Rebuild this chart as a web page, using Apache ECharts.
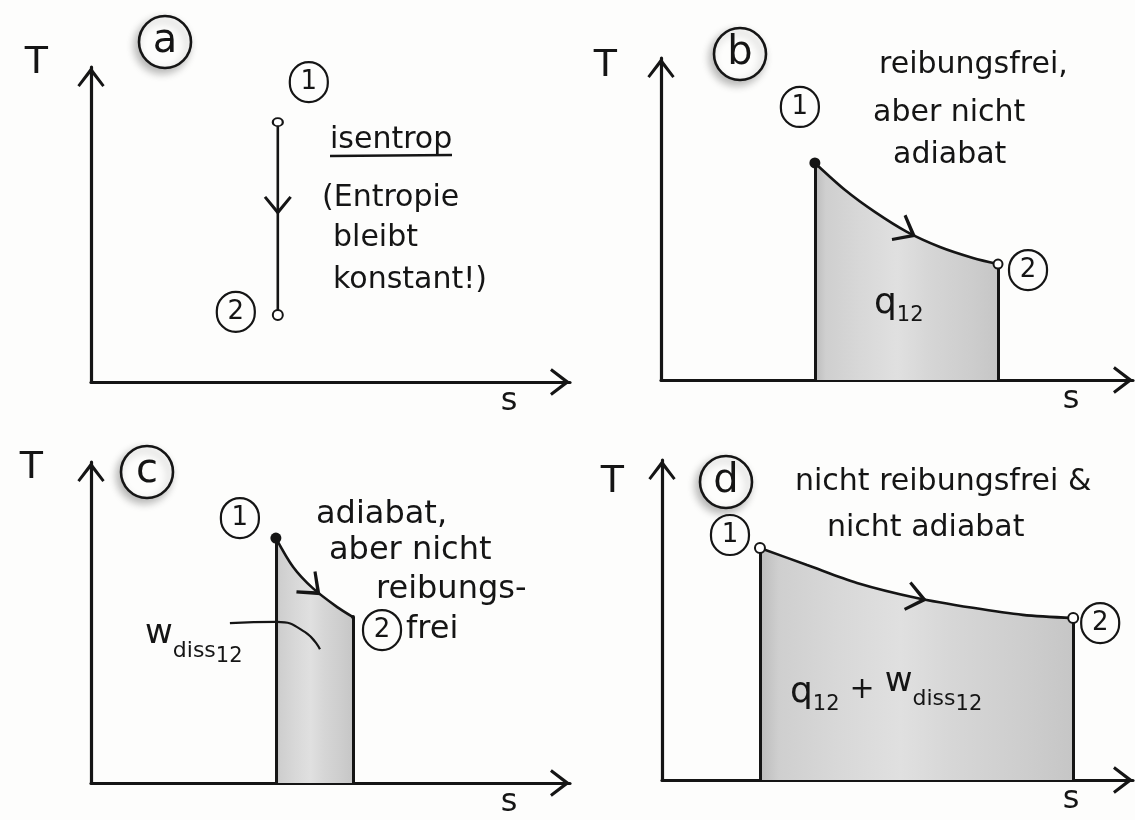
<!DOCTYPE html>
<html>
<head>
<meta charset="utf-8">
<script src="https://cdn.jsdelivr.net/npm/echarts@6/dist/echarts.min.js"></script>
<style>
  html, body { margin: 0; padding: 0; background: #fdfdfc; }
  #chart { width: 1135px; height: 820px; }
</style>
</head>
<body>
<div id="chart"></div>
<script>
// Change of state 1 -> 2 in the T-s diagram (entropy s, temperature T, arbitrary units 0..10)
// (a) isentrop
const isentropS = [3.9, 3.9, 3.9];
const isentropT = [8.25, 5.6, 2.13];
// (b) reibungsfrei, aber nicht adiabat
const reibfreiS = [3.26, 3.90, 4.53, 5.21, 5.91, 6.61, 7.14];
const reibfreiT = [6.74, 5.90, 5.22, 4.60, 4.13, 3.79, 3.60];
// (c) adiabat, aber nicht reibungsfrei
const adiabatS = [3.86, 4.22, 4.63, 5.14, 5.47];
const adiabatT = [7.63, 6.73, 6.07, 5.48, 5.17];
// (d) nicht reibungsfrei & nicht adiabat
const allgS = [2.08, 3.08, 4.14, 5.41, 6.60, 7.66, 8.73];
const allgT = [7.25, 6.72, 6.16, 5.69, 5.38, 5.16, 5.06];
// point of each path that carries the direction arrow
const arrowIndex = [1, 3, 2, 3];
// pointer from the w_diss label into the shaded area of (c)
const leaderS = [2.90, 3.88, 4.47, 4.78];
const leaderT = [4.98, 5.02, 4.70, 4.17];
const panelLetters = ['a', 'b', 'c', 'd'];
const stateNames = ['1', '2'];
const axisNames = { x: 's', y: 'T' };

const INK = '#151515';
const FONT = 'DejaVu Sans';
const zip = (xs, ys) => xs.map((x, i) => [x, ys[i]]);
const paths = [
  zip(isentropS, isentropT),
  zip(reibfreiS, reibfreiT),
  zip(adiabatS, adiabatT),
  zip(allgS, allgT)
];

// hand-drawn style open arrow head, tip pointing up
const CHEVRON = 'path://M15,0 L30,20 L27.5,22 L15,6 L2.5,22 L0,20 Z';

const grids = [
  { left: 91, top: 67, width: 479, height: 315 },
  { left: 661, top: 58, width: 472, height: 322 },
  { left: 91, top: 462, width: 479, height: 321 },
  { left: 662, top: 460, width: 471, height: 320 }
];
// placement of axis names (T above-left of the arrow, s below the s-arrow)
const tLayout = [
  { gap: 4, pad: 43 }, { gap: -8, pad: 44 }, { gap: -6, pad: 48 }, { gap: -22, pad: 38 }
];
const sGap = [-61, -62, -61, -62];

const axisLine = {
  show: true,
  onZero: false,
  symbol: ['none', CHEVRON],
  symbolSize: [30, 20],
  symbolOffset: [0, -10],
  lineStyle: { color: INK, width: 3.2, cap: 'round' }
};
const hidden = {
  axisTick: { show: false },
  axisLabel: { show: false },
  splitLine: { show: false }
};

const xAxes = grids.map((g, i) => Object.assign({
  type: 'value', gridIndex: i, min: 0, max: 10,
  name: axisNames.x, nameLocation: 'end', nameGap: sGap[i],
  nameTextStyle: { fontFamily: FONT, fontSize: 32, color: INK, align: 'center', verticalAlign: 'top', padding: [4, 0, 0, 0] },
  axisLine
}, hidden));
const yAxes = grids.map((g, i) => Object.assign({
  type: 'value', gridIndex: i, min: 0, max: 10,
  name: axisNames.y, nameLocation: 'end', nameGap: tLayout[i].gap,
  nameTextStyle: { fontFamily: FONT, fontSize: 38, color: INK, align: 'right', verticalAlign: 'middle', padding: [0, tLayout[i].pad, 0, 0] },
  axisLine
}, hidden));

const shade = {
  type: 'linear', x: 0, y: 0, x2: 1, y2: 0,
  colorStops: [
    { offset: 0, color: '#bcbcbc' }, { offset: 0.06, color: '#cfcfcf' },
    { offset: 0.25, color: '#d8d8d8' }, { offset: 0.45, color: '#e0e0e0' },
    { offset: 0.62, color: '#d6d6d6' }, { offset: 0.85, color: '#cdcdcd' },
    { offset: 1, color: '#c6c6c6' }
  ]
};

// marker style and circled state label offsets for the start and end states
const endMarks = [
  [{ symbol: 'emptyCircle', size: [10, 8], off: [31, -40] }, { symbol: 'emptyCircle', size: 10, off: [-42, -3] }],
  [{ symbol: 'circle', size: 11, off: [-15, -56] }, { symbol: 'emptyCircle', size: 9, off: [30, 6] }],
  [{ symbol: 'circle', size: 11, off: [-36, -20] }, { symbol: 'circle', size: 4, off: [29, 13] }],
  [{ symbol: 'emptyCircle', size: 10, off: [-30, -13] }, { symbol: 'emptyCircle', size: 10, off: [27, 5] }]
];

const series = [];
paths.forEach((pts, i) => {
  const first = pts[0], last = pts[pts.length - 1];
  const withArea = i > 0;
  series.push({
    id: 'path' + i, type: 'line', xAxisIndex: i, yAxisIndex: i,
    data: pts, smooth: i === 0 ? false : 0.3,
    showSymbol: false, silent: true, z: 3,
    lineStyle: { color: INK, width: 2.6 },
    areaStyle: withArea ? { color: shade, opacity: 1, origin: 'start' } : undefined,
    markLine: withArea ? {
      silent: true, symbol: ['none', 'none'], label: { show: false },
      lineStyle: { color: INK, width: 3, type: 'solid' },
      data: [
        [{ coord: [first[0], 0] }, { coord: first }],
        [{ coord: [last[0], 0] }, { coord: last }]
      ]
    } : undefined
  });
  series.push({
    id: 'states' + i, type: 'scatter', xAxisIndex: i, yAxisIndex: i, z: 5, silent: true,
    itemStyle: { opacity: 1 },
    data: [first, last].map((p, k) => ({
      value: p, name: stateNames[k],
      symbol: endMarks[i][k].symbol, symbolSize: endMarks[i][k].size,
      itemStyle: { color: INK, opacity: 1, borderWidth: 0 },
      label: {
        show: true, position: 'inside', formatter: '{b}', offset: endMarks[i][k].off,
        fontFamily: FONT, fontSize: 26, color: INK, opacity: 1,
        width: 38, height: 40, lineHeight: 40, align: 'center', verticalAlign: 'middle',
        borderColor: INK, borderWidth: 2.2, borderRadius: 20
      }
    }))
  });
  series.push({
    id: 'arrow' + i, type: 'scatter', xAxisIndex: i, yAxisIndex: i, z: 6, silent: true,
    data: [pts[arrowIndex[i]]],
    symbol: CHEVRON, symbolSize: i === 0 ? [28, 19] : [30, 21], symbolRotate: 0,
    itemStyle: { color: INK, opacity: 1 }
  });
});
series.push({
  id: 'leader', type: 'line', xAxisIndex: 2, yAxisIndex: 2, z: 4, silent: true,
  data: zip(leaderS, leaderT), smooth: 0.5, showSymbol: false,
  lineStyle: { color: INK, width: 2.2 }
});

// circled panel letters and handwritten notes
const letterPos = [[165, 42], [740, 54], [147, 472], [726, 482]];
const graphics = [];
letterPos.forEach((p, i) => {
  graphics.push({
    type: 'circle', shape: { cx: p[0], cy: p[1], r: 26 }, z: 10,
    style: { fill: '#fdfdfc', stroke: INK, lineWidth: 2.6, shadowBlur: 8, shadowColor: 'rgba(0,0,0,0.28)', shadowOffsetX: -3, shadowOffsetY: 4 }
  });
  graphics.push({
    type: 'text', x: p[0], y: p[1], z: 11,
    style: { text: panelLetters[i], font: '40px ' + FONT, fill: INK, textAlign: 'center', textVerticalAlign: 'middle' }
  });
});
const note = (txt, x, y, size) => ({
  type: 'text', x, y, z: 10,
  style: { text: txt, font: size + 'px ' + FONT, fill: INK, textAlign: 'left', textVerticalAlign: 'middle' }
});
graphics.push(
  note('isentrop', 330, 140, 30),
  { type: 'line', z: 10, shape: { x1: 330, y1: 156, x2: 452, y2: 155 }, style: { stroke: INK, lineWidth: 2.6 } },
  note('(Entropie', 322, 198, 30),
  note('bleibt', 333, 238, 30),
  note('konstant!)', 333, 280, 30),
  note('reibungsfrei,', 879, 65, 30),
  note('aber nicht', 873, 113, 30),
  note('adiabat', 893, 155, 30),
  note('adiabat,', 316, 515, 32),
  note('aber nicht', 329, 551, 32),
  note('reibungs-', 376, 590, 32),
  note('frei', 406, 630, 32),
  note('nicht reibungsfrei &', 795, 482, 30),
  note('nicht adiabat', 827, 528, 30)
);
const richSub = {
  q: { fontFamily: FONT, fontSize: 36, fill: INK, verticalAlign: 'bottom', padding: [0, 0, 4, 0] },
  n: { fontFamily: FONT, fontSize: 21, fill: INK, verticalAlign: 'bottom' },
  p: { fontFamily: FONT, fontSize: 30, fill: INK, verticalAlign: 'bottom', padding: [0, 10, 10, 10] },
  w: { fontFamily: FONT, fontSize: 34, fill: INK, verticalAlign: 'bottom', padding: [0, 0, 16, 0] },
  d: { fontFamily: FONT, fontSize: 22, fill: INK, verticalAlign: 'bottom', padding: [0, 0, 5, 0] }
};
graphics.push(
  { type: 'text', x: 874, y: 306, z: 10, style: { text: '{q|q}{n|12}', rich: richSub, textAlign: 'left', textVerticalAlign: 'middle' } },
  { type: 'text', x: 145, y: 642, z: 10, style: { text: '{w|w}{d|diss}{n|12}', rich: richSub, textAlign: 'left', textVerticalAlign: 'middle' } },
  { type: 'text', x: 790, y: 690, z: 10, style: { text: '{q|q}{n|12}{p|+}{w|w}{d|diss}{n|12}', rich: richSub, textAlign: 'left', textVerticalAlign: 'middle' } }
);

const chart = echarts.init(document.getElementById('chart'), null, { renderer: 'canvas' });
chart.setOption({
  backgroundColor: '#fdfdfc',
  animation: false,
  grid: grids,
  xAxis: xAxes,
  yAxis: yAxes,
  series,
  graphic: { elements: graphics }
});

// turn each direction arrow along the local tangent of its path
const arrowUpdates = paths.map((pts, i) => {
  const k = arrowIndex[i];
  const a = chart.convertToPixel({ gridIndex: i }, pts[k - 1]);
  const b = chart.convertToPixel({ gridIndex: i }, pts[k + 1]);
  const ang = Math.atan2(-(b[1] - a[1]), b[0] - a[0]) * 180 / Math.PI;
  return { id: 'arrow' + i, symbolRotate: ang - 90 };
});
chart.setOption({ series: arrowUpdates });
</script>
</body>
</html>
